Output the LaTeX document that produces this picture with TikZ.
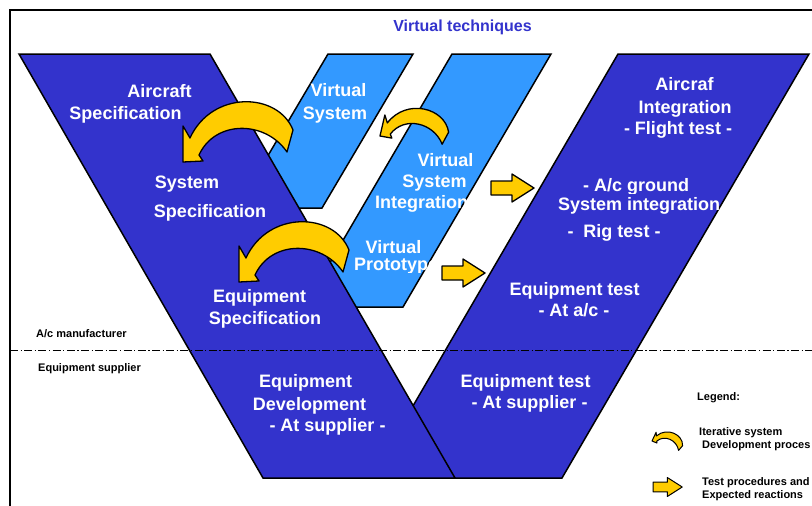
\documentclass[tikz,border=0pt]{standalone}
\usepackage{fontspec}
\setmainfont{Liberation Sans}
\definecolor{darkv}{RGB}{51,51,204}
\definecolor{lightv}{RGB}{51,153,255}
\definecolor{yel}{RGB}{255,204,0}
\tikzset{
  arm/.style={fill=darkv, draw=black, line width=1.5pt},
  band/.style={fill=lightv, draw=black, line width=1.5pt},
  wt/.style={text=white, font=\fontsize{18}{20}\selectfont\bfseries, inner sep=0pt, anchor=base},
  wtl/.style={wt, anchor=base west},
  small/.style={text=black, font=\fontsize{11}{12}\selectfont\bfseries, inner sep=0pt, anchor=base west},
  yarrow/.style={fill=yel, draw=black, line width=1.3pt, line join=round},
  carrow/.pic={\path[yarrow] (0,0) -- (0,-36) -- (7,-24) .. controls (29,-72) and (95,-70) .. (110,-32) -- (104,-10) .. controls (82,-42) and (32,-42) .. (16,-7) -- (20,-1) -- cycle;},
  sarrow/.pic={\path[yarrow] (0,-7) -- (21,-7) -- (21,-14) -- (43,0) -- (21,14) -- (21,7) -- (0,7) -- cycle;}
}
\begin{document}
\begin{tikzpicture}[x=1pt,y=-1pt]
\useasboundingbox (0,0) rectangle (812,506);
% frame
\draw[line width=1.6pt] (812,10) -- (10,10) -- (10,506);
% light blue bands
\path[band] (328,54) -- (413,54) -- (322,208) -- (237,208) -- cycle;
\path[band] (452,54) -- (551,54) -- (403,307) -- (304,307) -- cycle;
% arms
\path[arm] (618,54) -- (809,54) -- (562,478) -- (371,478) -- cycle;
\path[arm] (19,54) -- (210,54) -- (455,478) -- (263,478) -- cycle;
% boundary line
\draw[line width=0.9pt, dash pattern=on 8pt off 2.5pt on 1.2pt off 2.5pt] (10,350) -- (812,350);
% arrows
\pic (ca1) at (183,162) {carrow};
\pic (ca2) at (239,282) {carrow};
\pic[scale=0.6, rotate=-13] (ca3) at (380,136) {carrow};
\pic (sa1) at (491,188) {sarrow};
\pic (sa2) at (442,273) {sarrow};
\begin{scope}[yarrow/.append style={line width=1pt}]
\pic[scale=0.27, rotate=-25] (ca4) at (652,441) {carrow};
\pic[scale=0.68] (sa3) at (653,487) {sarrow};
\end{scope}
% title
\node[font=\fontsize{16}{18}\selectfont\bfseries, text=darkv, anchor=base, inner sep=0pt] (title) at (462.5,31.7) {Virtual techniques};
% left arm texts
\node[wt] (ac1) at (159.5,97) {Aircraft};
\node[wt] (ac2) at (125.5,119.3) {Specification};
\node[wt] (ss1) at (187,188) {System};
\node[wt] (ss2) at (210,217.7) {Specification};
\node[wt] (eq1) at (259.5,302) {Equipment};
\node[wt] (eq2) at (265,324) {Specification};
\node[wt] (ed1) at (305.5,387) {Equipment};
\node[wt] (ed2) at (309.5,410.7) {Development};
\node[wt] (ed3) at (327.5,431.7) {- At supplier -};
% virtual bands texts
\node[wt] (vs1) at (338.5,96.7) {Virtual};
\node[wt] (vs2) at (335,119) {System};
\node[wt] (vi1) at (445.5,166.7) {Virtual};
\node[wt] (vi2) at (434.5,187.7) {System};
\node[wtl] (vi3) at (375,208) {Integration};
\node[wt] (vp1) at (393.5,253.3) {Virtual};
\begin{scope}
\clip (340,240) rectangle (440,272);
\node[wtl] (vp2) at (354,270) {Prototype};
\end{scope}
% right arm texts
\node[wt] (ai1) at (684.5,90) {Aircraf};
\node[wt] (ai2) at (685,113.3) {Integration};
\node[wt] (ai3) at (678,134) {- Flight test -};
\begin{scope}
\clip (570,170) rectangle (700,193);
\node[wtl] (gi1) at (583,191) {- A/c ground};
\end{scope}
\node[wtl] (gi2) at (558,210) {System integration};
\node[wt] (gi3) at (614,237) {-\ \ Rig test -};
\node[wt] (et1) at (574.5,295.7) {Equipment test};
\node[wt] (et2) at (574,316.7) {- At a/c -};
\node[wt] (es1) at (525.5,387.3) {Equipment test};
\node[wt] (es2) at (529.5,408.3) {- At supplier -};
% side labels
\node[small] (am) at (36,337.3) {A/c manufacturer};
\node[small] (su) at (38,371.7) {Equipment supplier};
% legend
\node[small] (lg) at (697,400) {Legend:};
\node[small] (l1a) at (699,435.7) {Iterative system};
\node[small] (l1b) at (702,448.3) {Development proces};
\node[small] (l2a) at (702,485) {Test procedures and};
\node[small] (l2b) at (702,498.3) {Expected reactions};
\end{tikzpicture}
\end{document}
